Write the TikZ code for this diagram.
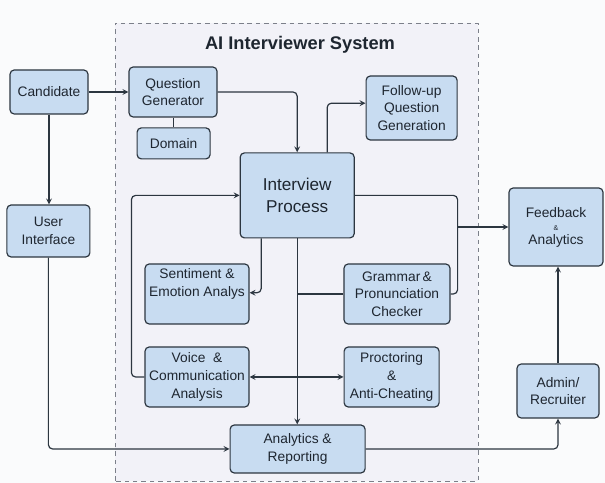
\documentclass[tikz,border=0pt]{standalone}
\usepackage{fontspec}
\setmainfont{Liberation Sans}
\usepackage{tikz}
\usetikzlibrary{arrows, positioning, calc}
\definecolor{pagebg}{HTML}{FAFBFC}
\definecolor{sysbg}{HTML}{F2F2F8}
\definecolor{sysline}{HTML}{7C808A}
\definecolor{boxfill}{HTML}{C8DCF1}
\definecolor{boxline}{HTML}{2C3640}
\definecolor{txt}{HTML}{1E2630}

\begin{document}
\begin{tikzpicture}[line width=0.85pt, >=stealth, line join=round,
    box/.style={draw=boxline, fill=boxfill, rounded corners=3pt, align=center, inner sep=1pt, text=txt,
        font=\fontsize{9.8}{12.6}\selectfont},
    link/.style={->, draw=boxline, rounded corners=3pt},
    plain/.style={draw=boxline, rounded corners=3pt}]
    \useasboundingbox[fill=pagebg] (0, 0) rectangle (15.125, 12.075);

    % System frame
    \draw[sysline, fill=sysbg, dashed, dash pattern=on 3.2pt off 2.8pt, semithick] (2.875, 0.05) rectangle (11.95, 11.5);
    \node[text=txt, font=\bfseries\fontsize{13}{15}\selectfont] (title) at (7.5, 10.95) {AI Interviewer System};

    % Outside the system
    \node[box, minimum width=1.95cm, minimum height=1.1cm] (cand) at (1.225, 9.775) {Candidate};
    \node[box, minimum width=2.075cm, minimum height=1.3cm] (ui) at (1.21, 6.3) {User\\Interface};
    \node[box, minimum width=2.35cm, minimum height=1.95cm] (fb) at (13.9, 6.4) {Feedback\\[-3pt]{\fontsize{5}{5}\selectfont\&}\\[-3pt]Analytics};
    \node[box, minimum width=2.05cm, minimum height=1.35cm] (adm) at (13.95, 2.3) {Admin/\\Recruiter};

    % Inside the system
    \node[box, minimum width=2.2cm, minimum height=1.25cm] (qg) at (4.325, 9.775) {Question\\Generator};
    \node[box, minimum width=1.825cm, minimum height=0.775cm] (dom) at (4.34, 8.49) {Domain};
    \node[box, minimum width=2.85cm, minimum height=2.125cm, font=\fontsize{12.2}{15}\selectfont] (ip) at (7.43, 7.19) {Interview\\Process};
    \node[box, minimum width=2.275cm, minimum height=1.6cm] (fol) at (10.29, 9.375) {Follow-up\\Question\\Generation};
    \node[box, minimum width=2.6cm, minimum height=1.5cm] (sen) at (4.925, 4.725) {Sentiment \&\\Emotion Analys\\[4pt]};
    \node[box, minimum width=2.65cm, minimum height=1.5cm] (grm) at (9.925, 4.725) {Grammar\,\&\\Pronunciation\\Checker};
    \node[box, minimum width=2.6cm, minimum height=1.5cm] (voi) at (4.925, 2.65) {Voice~~\&\\Communication\\Analysis};
    \node[box, minimum width=2.375cm, minimum height=1.5cm] (pro) at (9.79, 2.65) {Proctoring\\\&\\Anti-Cheating};
    \node[box, minimum width=3.375cm, minimum height=1.2cm] (ana) at (7.44, 0.85) {Analytics \&\\Reporting};

    % Junction right of the grammar checker
    \coordinate (split) at ($(grm.east) + (0.175, 0)$);

    % Candidate side
    \draw[link] (cand) -- (qg);
    \draw[link] (cand.south) -- (cand.south |- ui.north);
    \draw[plain] (qg.south -| dom.north) -- (dom.north);
    \draw[link] (qg.east) -| (ip.north);

    % Around the interview process
    \draw[link] ([xshift=0.75cm]ip.north) |- ([yshift=0.12cm]fol.west);
    \draw[link] (voi.west) -- ++(-0.325, 0) |- (ip.west);
    \draw[link] ([xshift=-0.9cm]ip.south) |- ([yshift=0.03cm]sen.east);
    \draw[plain] (ip.east) -| (split) -- (grm.east);
    \draw[link] (split |- fb.west) -- (fb.west);
    \draw[plain] (grm.west) -- (grm.west -| ip.south);
    \draw[link] (ip.south) -- (ip.south |- ana.north);
    \draw[<->, draw=boxline] (voi.east) -- (pro.west);

    % Reporting
    \draw[link] (ui.south) |- (ana.west);
    \draw[link] (ana.east) -| (adm.south);
    \draw[link] (adm.north) -- (adm.north |- fb.south);
\end{tikzpicture}
\end{document}
